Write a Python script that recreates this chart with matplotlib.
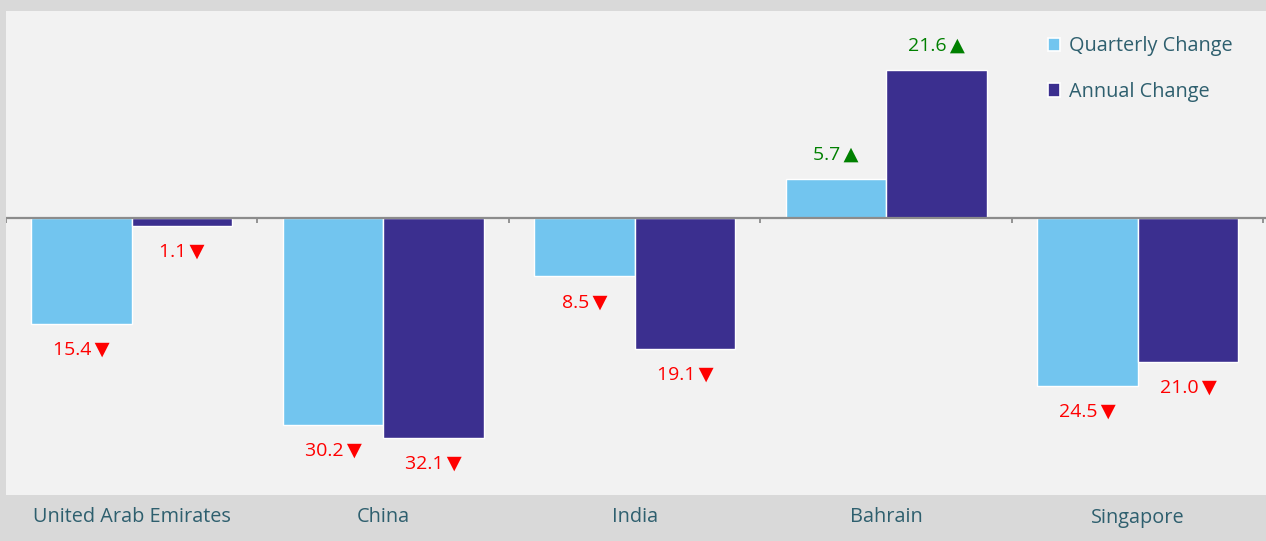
import numpy as np
import matplotlib.pyplot as plt

countries = ['United Arab Emirates', 'China', 'India', 'Bahrain', 'Singapore']
quarterly = [-15.4, -30.2, -8.5, 5.7, -24.5]
annual = [-1.1, -32.1, -19.1, 21.6, -21.0]

light = '#72c5ef'
dark = '#3b2f8f'
txt = '#2e5f6e'

plt.rcParams['font.family'] = ['Open Sans', 'DejaVu Sans']

fig = plt.figure(figsize=(12.66, 5.41), dpi=100)
fig.patch.set_facecolor('#d9d9d9')
ax = fig.add_axes([6 / 1266, 46 / 541, 1260 / 1266, 484 / 541])
ax.set_facecolor('#f2f2f2')

x = np.arange(len(countries))
w = 0.4
b1 = ax.bar(x - w / 2, quarterly, w, color=light, edgecolor='white', linewidth=1, label='Quarterly Change', zorder=2)
b2 = ax.bar(x + w / 2, annual, w, color=dark, edgecolor='white', linewidth=1, label='Annual Change', zorder=2)

ax.set_xlim(-0.5, 4.51)
ax.set_ylim(-40.4, 30.2)

# zero line and group separators
ax.axhline(0, color='#8c8c8c', lw=1.6, zorder=3)
bounds = np.arange(-0.5, 5, 1)
ax.vlines(bounds, -0.75, 0, color='#8c8c8c', lw=1.3, zorder=3)

# value labels
for bars, vals in ((b1, quarterly), (b2, annual)):
    for r, v in zip(bars, vals):
        cx = r.get_x() + r.get_width() / 2
        if v < 0:
            ax.text(cx, v - 3.8, f'{abs(v):.1f}\u2009\u25BC', ha='center', va='center',
                    color='#ff0000', fontsize=14)
        else:
            ax.text(cx, v + 3.6, f'{v:.1f}\u2009\u25B2', ha='center', va='center',
                    color='#008000', fontsize=14)

ax.set_xticks(x)
ax.set_xticklabels(countries, fontsize=14.3, color=txt)
ax.tick_params(axis='x', length=0, pad=9)
ax.set_yticks([])
for s in ax.spines.values():
    s.set_visible(False)

leg = ax.legend(loc='upper right', frameon=False, fontsize=14.3, labelcolor=txt,
                handlelength=0.65, handleheight=0.65, handletextpad=0.45,
                labelspacing=1.3, bbox_to_anchor=(0.988, 0.985))
for h in leg.legend_handles:
    h.set_edgecolor('white')
    h.set_linewidth(1.2)

fig.savefig('out.png', dpi=100, facecolor=fig.get_facecolor())
